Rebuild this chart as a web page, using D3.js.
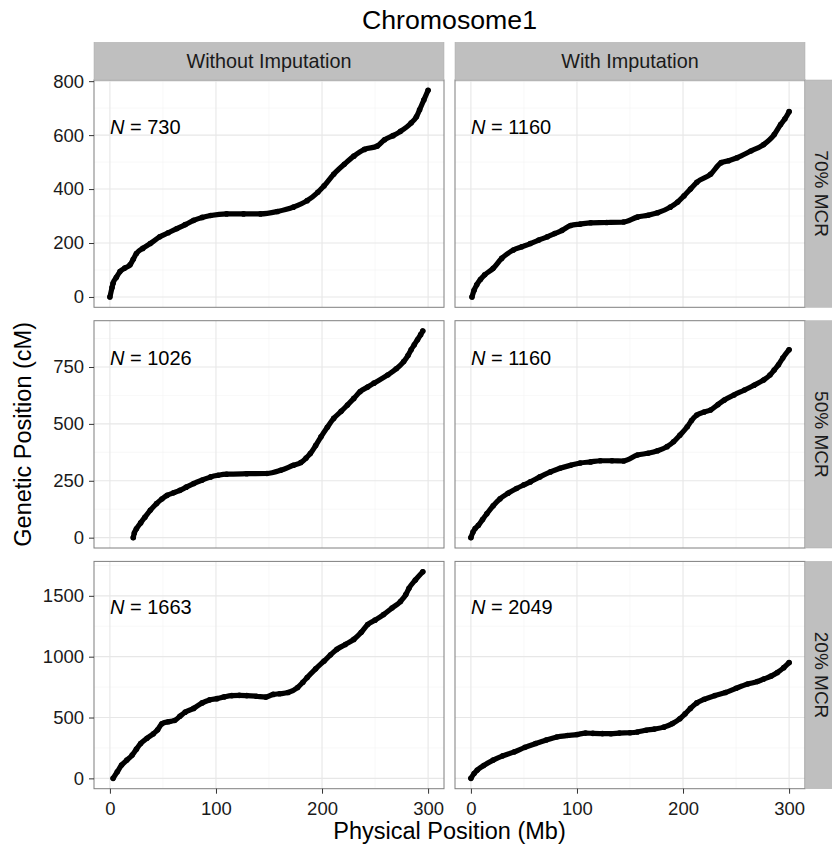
<!DOCTYPE html>
<html>
<head>
<meta charset="utf-8">
<title>Chromosome1</title>
<script src="https://cdn.jsdelivr.net/npm/d3@7"></script>
<style>
body { margin: 0; background: #fff; }
svg { display: block; font-family: "Liberation Sans", Arial, Helvetica, sans-serif; }
</style>
</head>
<body>
<svg id="chart" width="832" height="847"></svg>
<script>
var title = "Chromosome1";
var xTitle = "Physical Position (Mb)";
var yTitle = "Genetic Position (cM)";
var colLabels = ["Without Imputation", "With Imputation"];
var rowLabels = ["70% MCR", "50% MCR", "20% MCR"];
var xTicks = [0, 100, 200, 300];
var yTicks = [[0, 200, 400, 600, 800], [0, 250, 500, 750], [0, 500, 1000, 1500]];
var nCounts = [[730, 1160], [1026, 1160], [1663, 2049]];
var labelY = [630, 790, 1410];

// [physical Mb, genetic cM]
var mcr70Without = [[0,0],[2,35],[3,51],[6,72],[9.5,94],[14,107],[19,119],[22,140],[25,161],[31,180],[38,198],[47,223],[55,238],[63,253],[71,268],[79,284],[87,295],[95,302],[110,308],[126,308],[142,308],[158,317],[173,333],[186,357],[196,388],[202,412],[211,455],[221,492],[230,522],[240,547],[252,559],[259,583],[267,598],[274,614],[284,645],[289,668],[292,694],[296,730],[300,766]];
var mcr70With = [[1,0],[3,25],[5.5,45],[9,65],[13,82],[21,106],[29,143],[40,174],[48,186],[56,198],[64,211],[72,223],[79,235],[86,247],[94,265],[103,270],[113,275],[128,276],[144,278],[157,296],[167,303],[176,312],[188,333],[195,352],[201,375],[207,400],[213,425],[226,455],[236,498],[243,505],[251,516],[264,541],[276,565],[286,602],[292,639],[296,660],[300,687]];
var mcr50Without = [[22,0],[23,20],[25,39],[29,65],[33,90],[38,120],[44,150],[49,170],[54,186],[60,197],[66,208],[72,222],[79,238],[87,253],[95,267],[102,274],[110,279],[129,281],[148,282],[161,296],[173,318],[180,330],[185,350],[189,370],[194,405],[199,443],[205,485],[211,524],[218,555],[224,583],[230,612],[236,642],[243,662],[249,679],[262,715],[270,742],[277,774],[281,800],[284,826],[287,848],[290,870],[293,892],[295,908]];
var mcr50With = [[0,0],[2,25],[4,40],[7,54],[11,80],[15,105],[21,140],[27.5,171],[35,195],[43,216],[50,232],[56,245],[65,267],[75,289],[84,305],[94,318],[103,328],[113,333],[122,338],[133,338],[144,337],[157,363],[167,371],[176,382],[185,400],[191,421],[197,450],[204,487],[208,515],[213,539],[220,552],[226,561],[233,585],[239,605],[248,627],[258,649],[267,670],[276,693],[282,715],[286,737],[290,760],[294,789],[300,826]];
var mcr20Without = [[3,0],[7,55],[11,109],[16,150],[21,191],[25,240],[29,286],[35,330],[41,367],[45,400],[49,449],[55,465],[61,476],[66,510],[71,544],[79,575],[87,620],[94,645],[101,655],[108,670],[115,680],[122,682],[129,680],[138,675],[147,668],[154,690],[160,695],[168,705],[177,747],[182,790],[186,829],[194,900],[202,965],[208,1015],[214,1060],[222,1100],[230,1142],[237,1200],[243,1264],[250,1300],[258,1346],[266,1400],[274,1454],[279,1510],[282,1562],[288,1630],[295,1698]];
var mcr20With = [[0,0],[3,40],[6,68],[12,105],[21,150],[30,185],[41,218],[51,255],[61,286],[71,315],[81,340],[91,352],[100,360],[108,372],[115,370],[124,368],[132,367],[140,372],[150,375],[157,381],[165,395],[173,405],[182,421],[190,450],[197,490],[202,530],[207,575],[213,620],[220,650],[230,680],[240,705],[250,740],[261,775],[270,795],[276,816],[283,840],[289,870],[295,910],[300,951]];

var panels = [[mcr70Without, mcr70With], [mcr50Without, mcr50With], [mcr20Without, mcr20With]];

var svg = d3.select("#chart");
var colX = [94, 455];
var rowY = [80, 320.7, 561.4];
var panelW = 350, panelH = 227.3;
var stripTop = 42.3, stripH = 37.7;

//ggplot style 5% padding
function expand(ext) {
	var p = (ext[1] - ext[0]) * 0.05;
	return [ext[0] - p, ext[1] + p];
}

//midpoints between major breaks, one step beyond each end
function minorBreaks(ticks, domain) {
	var step = ticks[1] - ticks[0];
	var out = [];
	for (var i = -1; i < ticks.length; i++) {
		var m = ticks[0] + step * i + step / 2;
		if (m >= domain[0] && m <= domain[1]) out.push(m);
	}
	return out;
}

function styleAxis(g) {
	g.attr("font-family", null).attr("font-size", null);
	g.select(".domain").remove();
	g.selectAll(".tick line").attr("stroke", "#333").attr("stroke-width", 1);
	g.selectAll(".tick text").attr("fill", "#1a1a1a").style("font-size", "18.5px");
}

var allPoints = d3.merge(d3.merge(panels));
var x = d3.scaleLinear()
	.domain(expand(d3.extent(allPoints, function(d) { return d[0]; })))
	.range([0, panelW]);

rowLabels.forEach(function(rowName, r) {
	var rowPoints = d3.merge(panels[r]);
	var y = d3.scaleLinear()
		.domain(expand(d3.extent(rowPoints, function(d) { return d[1]; })))
		.range([panelH, 0]);

	colLabels.forEach(function(colName, c) {
		var data = panels[r][c];
		var g = svg.append("g").attr("transform", "translate(" + colX[c] + "," + rowY[r] + ")");

		g.append("rect").attr("width", panelW).attr("height", panelH).attr("fill", "#fff");

		//minor grid
		g.selectAll(".xminor").data(minorBreaks(xTicks, x.domain())).enter().append("line")
			.attr("x1", function(d) { return x(d); }).attr("x2", function(d) { return x(d); })
			.attr("y1", 0).attr("y2", panelH)
			.attr("stroke", "#f3f3f3").attr("stroke-width", 0.6);
		g.selectAll(".yminor").data(minorBreaks(yTicks[r], y.domain())).enter().append("line")
			.attr("y1", function(d) { return y(d); }).attr("y2", function(d) { return y(d); })
			.attr("x1", 0).attr("x2", panelW)
			.attr("stroke", "#f3f3f3").attr("stroke-width", 0.6);

		//major grid
		g.selectAll(".xmajor").data(xTicks).enter().append("line")
			.attr("x1", function(d) { return x(d); }).attr("x2", function(d) { return x(d); })
			.attr("y1", 0).attr("y2", panelH)
			.attr("stroke", "#e7e7e7").attr("stroke-width", 1.1);
		g.selectAll(".ymajor").data(yTicks[r]).enter().append("line")
			.attr("y1", function(d) { return y(d); }).attr("y2", function(d) { return y(d); })
			.attr("x1", 0).attr("x2", panelW)
			.attr("stroke", "#e7e7e7").attr("stroke-width", 1.1);

		//points, joined so the dense run reads as one band
		var line = d3.line()
			.x(function(d) { return x(d[0]); })
			.y(function(d) { return y(d[1]); })
			.curve(d3.curveMonotoneX);
		g.append("path").datum(data)
			.attr("d", line)
			.attr("fill", "none")
			.attr("stroke", "#000")
			.attr("stroke-width", 5.2)
			.attr("stroke-linecap", "round")
			.attr("stroke-linejoin", "round");
		g.selectAll(".pt").data(data).enter().append("circle")
			.attr("cx", function(d) { return x(d[0]); })
			.attr("cy", function(d) { return y(d[1]); })
			.attr("r", 2.8)
			.attr("fill", "#000");

		//N label
		var t = g.append("text")
			.attr("x", x(0))
			.attr("y", y(labelY[r]))
			.attr("dy", "0.35em")
			.attr("fill", "#000")
			.style("font-size", "20px");
		t.append("tspan").attr("font-style", "italic").text("N");
		t.append("tspan").text(" = " + nCounts[r][c]);

		g.append("rect").attr("width", panelW).attr("height", panelH)
			.attr("fill", "none").attr("stroke", "#7f7f7f").attr("stroke-width", 1);

		if (c === 0) {
			g.append("g")
				.call(d3.axisLeft(y).tickValues(yTicks[r]).tickFormat(d3.format("d")).tickSize(5).tickPadding(5))
				.call(styleAxis);
		}
		if (r === rowLabels.length - 1) {
			g.append("g")
				.attr("transform", "translate(0," + panelH + ")")
				.call(d3.axisBottom(x).tickValues(xTicks).tickFormat(d3.format("d")).tickSize(5).tickPadding(8))
				.call(styleAxis);
		}
	});

	//row strip (runs off the right edge, as in the original)
	var sx = colX[1] + panelW;
	svg.append("rect")
		.attr("x", sx).attr("y", rowY[r]).attr("width", 38).attr("height", panelH)
		.attr("fill", "#bfbfbf").attr("stroke", "#adadad").attr("stroke-width", 0.5);
	svg.append("text")
		.attr("transform", "translate(" + (sx + 9.5) + "," + (rowY[r] + panelH / 2) + ") rotate(90)")
		.attr("text-anchor", "middle")
		.attr("fill", "#1a1a1a")
		.style("font-size", "19px")
		.text(rowName);
});

//column strips
colLabels.forEach(function(colName, c) {
	svg.append("rect")
		.attr("x", colX[c]).attr("y", stripTop).attr("width", panelW).attr("height", stripH)
		.attr("fill", "#bfbfbf").attr("stroke", "#adadad").attr("stroke-width", 0.5);
	svg.append("text")
		.attr("x", colX[c] + panelW / 2)
		.attr("y", stripTop + stripH / 2 + 7)
		.attr("text-anchor", "middle")
		.attr("fill", "#1a1a1a")
		.style("font-size", "19.8px")
		.text(colName);
});

var midX = (colX[0] + colX[1] + panelW) / 2;
var midY = (rowY[0] + rowY[2] + panelH) / 2;

svg.append("text")
	.attr("x", midX).attr("y", 29)
	.attr("text-anchor", "middle")
	.style("font-size", "26.7px")
	.text(title);

svg.append("text")
	.attr("x", midX).attr("y", 838.5)
	.attr("text-anchor", "middle")
	.style("font-size", "23.5px")
	.text(xTitle);

svg.append("text")
	.attr("transform", "translate(31," + midY + ") rotate(-90)")
	.attr("text-anchor", "middle")
	.style("font-size", "23.5px")
	.text(yTitle);
</script>
</body>
</html>
